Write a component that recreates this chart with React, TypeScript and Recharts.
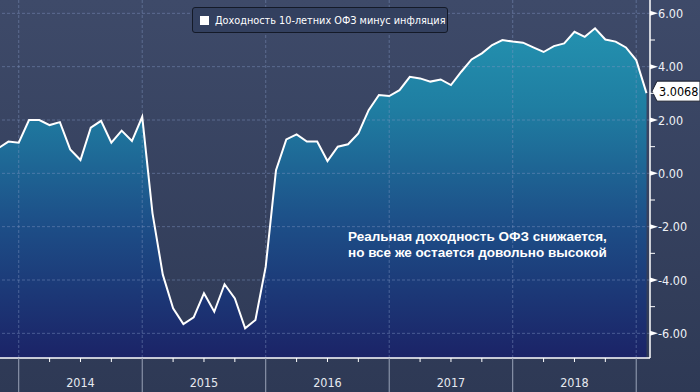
import { ComposedChart, Area, Line, XAxis, YAxis, ReferenceLine } from 'recharts';

// first point is Nov 2013, index 0 = Jan 2014
const FIRST_MONTH = -2;
const realYield = [
  0.94, 1.19, 1.15, 2.0, 2.0, 1.81, 1.92, 0.9, 0.5, 1.71, 1.97, 1.15, 1.6, 1.21,
  2.12, -1.5, -3.8, -5.06, -5.65, -5.4, -4.5, -5.19, -4.16, -4.69, -5.81, -5.5,
  -3.5, 0.12, 1.27, 1.46, 1.19, 1.19, 0.46, 1.0, 1.09, 1.5, 2.37, 2.94, 2.9, 3.12,
  3.62, 3.56, 3.44, 3.52, 3.31, 3.81, 4.27, 4.5, 4.81, 5.0, 4.94, 4.9, 4.72, 4.55,
  4.77, 4.87, 5.31, 5.12, 5.44, 5.02, 4.94, 4.72, 4.25, 3.0068,
];
const years = [2014, 2015, 2016, 2017, 2018];
const yearStarts = [0, 12, 24, 36, 48, 60];
const quarterTicks = [0, 3, 6, 9, 12, 15, 18, 21, 24, 27, 30, 33, 36, 39, 42, 45, 48, 51, 54, 57, 60];
const yTicks = [-6, -5, -4, -3, -2, -1, 0, 1, 2, 3, 4, 5, 6];
const gridLevels = [-6, -4, -2, 0, 2, 4, 6];
const lastValue = 3.0068;
const seriesName = 'Доходность 10-летних ОФЗ минус инфляция';
const noteLines = ['Реальная доходность ОФЗ снижается,', 'но все же остается довольно высокой'];

const data = realYield.map((v, k) => ({ m: FIRST_MONTH + k, v }));

const tickFont = "'DejaVu Sans Condensed', 'DejaVu Sans', sans-serif";
const gridStroke = 'rgba(130,150,195,0.45)';

function XTick({ x, y, payload }: any) {
  const m = payload.value;
  const isYear = m % 12 === 0;
  const label = m % 12 === 6 ? years[Math.floor(m / 12)] : null;
  return (
    <g>
      {isYear ? (
        <line x1={x} x2={x} y1={y} y2={y + 34} stroke="#9aa3b8" strokeWidth={1} />
      ) : (
        <line x1={x} x2={x} y1={y} y2={y + 4} stroke="#ffffff" strokeWidth={1} />
      )}
      {label && (
        <text x={x} y={y + 29} textAnchor="middle" fill="#e6e9f0" fontSize={12.5} fontFamily={tickFont}>
          {label}
        </text>
      )}
    </g>
  );
}

function YTick({ x, y, payload }: any) {
  const v = payload.value;
  if (v % 2 !== 0) {
    return <line x1={x} x2={x + 5} y1={y} y2={y} stroke="#ffffff" strokeWidth={1} />;
  }
  return (
    <g>
      <polygon points={`${x},${y - 2.5} ${x + 8},${y} ${x},${y + 2.5}`} fill="#ffffff" />
      <text x={x + 8} y={y + 4.5} fill="#eef1f6" fontSize={12.5} fontFamily={tickFont}>
        {v.toFixed(2)}
      </text>
    </g>
  );
}

function ValueTag({ viewBox }: any) {
  const x = viewBox.x + viewBox.width;
  const y = viewBox.y - 2;
  return (
    <g>
      <polygon
        points={`${x + 2},${y} ${x + 7},${y - 10} ${x + 50},${y - 10} ${x + 50},${y + 10} ${x + 7},${y + 10}`}
        fill="#ffffff"
        stroke="#1a1f2e"
        strokeWidth={1}
      />
      <text x={x + 9} y={y + 4.5} fill="#000000" fontSize={12.5} fontFamily={tickFont}>
        {lastValue}
      </text>
    </g>
  );
}

export default function App() {
  return (
    <div
      style={{
        position: 'absolute',
        left: 0,
        top: 0,
        width: 700,
        height: 392,
        background: 'linear-gradient(#3e4a69, #2e3955)',
        overflow: 'hidden',
      }}
    >
      <ComposedChart width={700} height={392} data={data} margin={{ top: 0, right: 0, bottom: 0, left: 0 }}>
        <defs>
          <linearGradient id="fillGrad" gradientUnits="userSpaceOnUse" x1="0" y1="0" x2="0" y2="358">
            <stop offset="0%" stopColor="#2598b4" />
            <stop offset="30%" stopColor="#1f7ea2" />
            <stop offset="62%" stopColor="#1d4f88" />
            <stop offset="100%" stopColor="#1b2367" />
          </linearGradient>
        </defs>
        <XAxis
          dataKey="m"
          type="number"
          domain={[-1.82, 61.34]}
          allowDataOverflow
          ticks={quarterTicks}
          interval={0}
          height={34}
          tickSize={0}
          tickMargin={0}
          tickLine={false}
          axisLine={{ stroke: '#ffffff', strokeWidth: 1.5 }}
          tick={<XTick />}
        />
        <YAxis
          orientation="right"
          type="number"
          domain={[-6.925, 6.5]}
          allowDataOverflow
          ticks={yTicks}
          interval={0}
          width={50}
          tickSize={0}
          tickMargin={0}
          tickLine={false}
          axisLine={{ stroke: '#ffffff', strokeWidth: 1.5 }}
          tick={<YTick />}
        />
        <Area
          dataKey="v"
          type="linear"
          baseValue="dataMin"
          fill="url(#fillGrad)"
          fillOpacity={1}
          stroke="none"
          isAnimationActive={false}
        />
        {gridLevels.map((g) => (
          <ReferenceLine key={'h' + g} y={g} stroke={gridStroke} strokeDasharray="3 2" />
        ))}
        {yearStarts.map((s) => (
          <ReferenceLine key={'v' + s} x={s} stroke={gridStroke} strokeDasharray="3 2" />
        ))}
        <Line
          dataKey="v"
          type="linear"
          stroke="#ffffff"
          strokeWidth={2}
          dot={false}
          activeDot={false}
          isAnimationActive={false}
        />
        <ReferenceLine y={lastValue} stroke="none" label={<ValueTag />} />
      </ComposedChart>
      <div
        style={{
          position: 'absolute',
          left: 192,
          top: 7,
          width: 256,
          height: 26,
          boxSizing: 'border-box',
          display: 'flex',
          alignItems: 'center',
          paddingLeft: 7,
          background: '#33405f',
          border: '1px solid #141a28',
          borderRadius: 3,
          color: '#ffffff',
          fontFamily: tickFont,
          fontSize: 10.8,
          whiteSpace: 'nowrap',
        }}
      >
        <span style={{ flexShrink: 0, width: 9, height: 9, background: '#ffffff', marginRight: 6 }} />
        {seriesName}
      </div>
      <div
        style={{
          position: 'absolute',
          left: 348,
          top: 229,
          color: '#ffffff',
          fontFamily: "'Liberation Sans', Arial, sans-serif",
          fontWeight: 'bold',
          fontSize: 13.5,
          lineHeight: '16px',
          whiteSpace: 'nowrap',
        }}
      >
        {noteLines.map((l) => (
          <div key={l}>{l}</div>
        ))}
      </div>
    </div>
  );
}
